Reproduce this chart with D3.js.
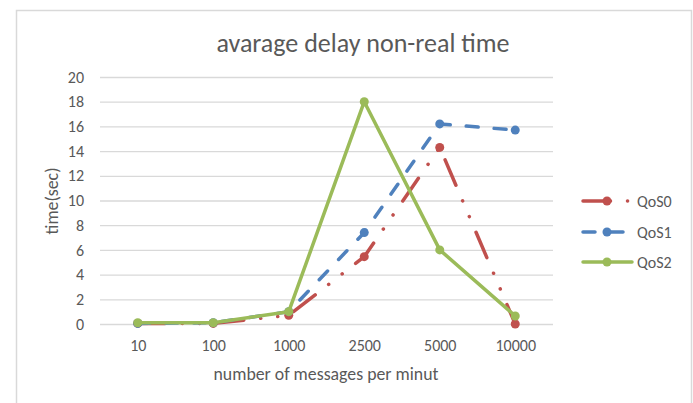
<!DOCTYPE html>
<html>
<head>
<meta charset="utf-8">
<script src="https://cdn.jsdelivr.net/npm/d3@7"></script>
<style>
	html, body { margin: 0; padding: 0; background: #fff; }
	svg text { font-family: Carlito, Calibri, Lato, "Open Sans", sans-serif; fill: #595959; }
</style>
</head>
<body>
<div id="chart"></div>
<script>
// Chart values.
var categories = [ '10', '100', '1000', '2500', '5000', '10000' ];
var seriesNames = [ 'QoS0', 'QoS1', 'QoS2' ];
var qos0 = [ 0.05, 0.05, 0.7, 5.45, 14.3, 0 ];
var qos1 = [ 0.05, 0.1, 1.0, 7.4, 16.2, 15.7 ];
var qos2 = [ 0.1, 0.1, 1.0, 18, 6.0, 0.65 ];
var yTicks = [ 0, 2, 4, 6, 8, 10, 12, 14, 16, 18, 20 ];

( function () {

	var width = 693, height = 403;
	var plot = { left: 100, right: 553, top: 77, bottom: 324 };

	var svg = d3.select( '#chart' ).append( 'svg' )
		.attr( 'width', width )
		.attr( 'height', height );

	// Outer chart frame.
	svg.append( 'rect' )
		.attr( 'x', 16.5 ).attr( 'y', 10.5 )
		.attr( 'width', 675 ).attr( 'height', 410 )
		.attr( 'fill', '#fff' )
		.attr( 'stroke', '#d9d9d9' )
		.attr( 'stroke-width', 1.5 );

	var xScale = d3.scalePoint().domain( categories ).range( [ plot.left, plot.right ] ).padding( 0.5 );
	var yScale = d3.scaleLinear().domain( [ 0, 20 ] ).range( [ plot.bottom, plot.top ] );

	// Y axis with the gridlines.
	var yAxis = d3.axisLeft( yScale )
		.tickValues( yTicks )
		.tickSize( -( plot.right - plot.left ) )
		.tickPadding( 16 );

	var gy = svg.append( 'g' )
		.attr( 'transform', 'translate( ' + plot.left + ', 0 )' )
		.call( yAxis );
	gy.select( '.domain' ).remove();
	gy.selectAll( 'line' ).attr( 'stroke', '#d9d9d9' ).attr( 'stroke-width', 1.3 );
	gy.selectAll( 'text' ).attr( 'font-size', 16 ).attr( 'font-family', null ).style( 'fill', '#595959' );

	// X axis, labels only.
	var xAxis = d3.axisBottom( xScale ).tickSize( 0 ).tickPadding( 16 );
	var gx = svg.append( 'g' )
		.attr( 'transform', 'translate( 0, ' + plot.bottom + ' )' )
		.call( xAxis );
	gx.select( '.domain' ).remove();
	gx.selectAll( 'text' ).attr( 'font-size', 16 ).attr( 'font-family', null ).style( 'fill', '#595959' );

	// Titles.
	svg.append( 'text' )
		.attr( 'x', 363 ).attr( 'y', 52 )
		.attr( 'text-anchor', 'middle' )
		.attr( 'font-size', 26 )
		.text( 'avarage delay non-real time' );

	svg.append( 'text' )
		.attr( 'x', 326 ).attr( 'y', 380 )
		.attr( 'text-anchor', 'middle' )
		.attr( 'font-size', 17.8 )
		.text( 'number of messages per minut' );

	svg.append( 'text' )
		.attr( 'transform', 'translate( 58, 201 ) rotate( -90 )' )
		.attr( 'text-anchor', 'middle' )
		.attr( 'font-size', 17.8 )
		.text( 'time(sec)' );

	var series = [
		{ name: seriesNames[0], values: qos0, color: '#C0504D', dash: '27.5,17,0.1,17,0.1,17' },
		{ name: seriesNames[1], values: qos1, color: '#4F81BD', dash: '12,16' },
		{ name: seriesNames[2], values: qos2, color: '#9BBB59', dash: null }
	];

	var line = d3.line()
		.x( function ( d, i ) { return xScale( categories[i] ); } )
		.y( function ( d ) { return yScale( d ); } );

	series.forEach( function ( s ) {
		var g = svg.append( 'g' );
		g.append( 'path' )
			.datum( s.values )
			.attr( 'd', line )
			.attr( 'fill', 'none' )
			.attr( 'stroke', s.color )
			.attr( 'stroke-width', 3.5 )
			.attr( 'stroke-linecap', 'round' )
			.attr( 'stroke-linejoin', 'round' )
			.attr( 'stroke-dasharray', s.dash );
		g.selectAll( 'circle' )
			.data( s.values )
			.enter()
			.append( 'circle' )
			.attr( 'cx', function ( d, i ) { return xScale( categories[i] ); } )
			.attr( 'cy', function ( d ) { return yScale( d ); } )
			.attr( 'r', 4.5 )
			.attr( 'fill', s.color );
	} );

	// Legend.
	var legend = svg.selectAll( '.legend' )
		.data( series )
		.enter()
		.append( 'g' )
		.attr( 'class', 'legend' )
		.attr( 'transform', function ( d, i ) { return 'translate( 0, ' + [ 201, 232, 262 ][i] + ' )'; } );

	legend.append( 'line' )
		.attr( 'x1', 583 ).attr( 'x2', 632 )
		.attr( 'y1', 0 ).attr( 'y2', 0 )
		.attr( 'stroke', function ( d ) { return d.color; } )
		.attr( 'stroke-width', 3.5 )
		.attr( 'stroke-linecap', 'round' )
		.attr( 'stroke-dasharray', function ( d ) { return d.dash; } );

	legend.append( 'circle' )
		.attr( 'cx', 607 ).attr( 'cy', 0 ).attr( 'r', 4.5 )
		.attr( 'fill', function ( d ) { return d.color; } );

	legend.append( 'text' )
		.attr( 'x', 637 ).attr( 'y', 0 ).attr( 'dy', '0.35em' )
		.attr( 'font-size', 16 )
		.text( function ( d ) { return d.name; } );

} )();
</script>
</body>
</html>
